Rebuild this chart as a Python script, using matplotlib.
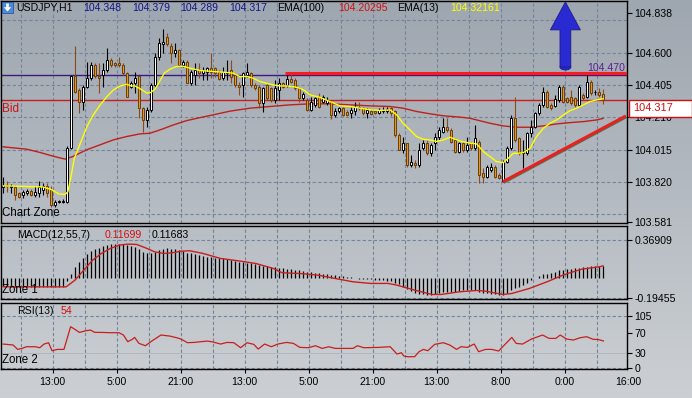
import numpy as np
import matplotlib
matplotlib.use("Agg")
import matplotlib.pyplot as plt
from matplotlib.patches import Rectangle, Polygon, Ellipse
import matplotlib.transforms as mtransforms
import matplotlib.patheffects as pe

# ---------------- DATA ----------------
opens = [103.790, 103.803, 103.790, 103.789, 103.752, 103.742, 103.752, 103.765, 103.742, 103.752,
         103.769, 103.793, 103.773, 103.682, 103.700, 103.702, 103.702, 104.024, 104.456, 104.375,
         104.305, 104.395, 104.446, 104.526, 104.456, 104.466, 104.496, 104.556, 104.536, 104.536,
         104.526, 104.476, 104.395, 104.416, 104.456, 104.265, 104.194, 104.254, 104.405, 104.576,
         104.652, 104.693, 104.640, 104.596, 104.616, 104.526, 104.546, 104.419, 104.466, 104.496,
         104.476, 104.486, 104.506, 104.506, 104.486, 104.445, 104.476, 104.496, 104.466, 104.405,
         104.405, 104.466, 104.476, 104.405, 104.395, 104.295, 104.405, 104.385, 104.315, 104.375,
         104.415, 104.405, 104.439, 104.435, 104.385, 104.325, 104.315, 104.255, 104.285, 104.335,
         104.305, 104.295, 104.305, 104.225, 104.245, 104.265, 104.239, 104.235, 104.245, 104.275,
         104.265, 104.235, 104.249, 104.245, 104.235, 104.245, 104.245, 104.265, 104.245, 104.104,
         104.014, 104.054, 103.923, 103.935, 103.923, 104.024, 104.054, 103.994, 104.054, 104.094,
         104.124, 104.154, 104.134, 104.074, 104.003, 104.054, 104.013, 104.054, 104.023, 104.064,
         103.873, 103.853, 103.893, 103.913, 103.863, 103.825, 103.943, 104.023, 104.204, 104.084,
         103.993, 103.993, 104.114, 104.154, 104.234, 104.285, 104.365, 104.285, 104.279, 104.315,
         104.395, 104.325, 104.335, 104.325, 104.285, 104.345, 104.335, 104.425, 104.360, 104.365,
         104.348]
highs = [103.853, 103.823, 103.805, 103.803, 103.762, 103.773, 103.780, 103.775, 103.793, 103.823,
         103.813, 103.813, 103.793, 103.712, 103.712, 103.716, 104.034, 104.466, 104.637, 104.385,
         104.406, 104.546, 104.546, 104.536, 104.536, 104.536, 104.627, 104.566, 104.546, 104.576,
         104.536, 104.486, 104.426, 104.486, 104.456, 104.275, 104.275, 104.415, 104.596, 104.687,
         104.741, 104.721, 104.656, 104.656, 104.620, 104.556, 104.556, 104.496, 104.536, 104.540,
         104.516, 104.516, 104.596, 104.516, 104.496, 104.516, 104.556, 104.556, 104.476, 104.425,
         104.486, 104.536, 104.486, 104.415, 104.405, 104.395, 104.415, 104.395, 104.435, 104.445,
         104.425, 104.466, 104.476, 104.445, 104.395, 104.365, 104.325, 104.335, 104.335, 104.355,
         104.345, 104.330, 104.315, 104.265, 104.275, 104.275, 104.255, 104.275, 104.305, 104.305,
         104.275, 104.265, 104.259, 104.255, 104.265, 104.275, 104.275, 104.275, 104.255, 104.114,
         104.094, 104.058, 103.984, 103.953, 104.054, 104.074, 104.074, 104.054, 104.114, 104.154,
         104.205, 104.205, 104.144, 104.084, 104.064, 104.064, 104.094, 104.064, 104.164, 104.074,
         103.903, 103.923, 103.933, 103.923, 103.873, 103.953, 104.034, 104.224, 104.335, 104.094,
         104.074, 104.124, 104.194, 104.244, 104.295, 104.395, 104.375, 104.295, 104.345, 104.405,
         104.405, 104.335, 104.375, 104.335, 104.405, 104.355, 104.466, 104.435, 104.375, 104.385,
         104.379]
lows = [103.752, 103.762, 103.752, 103.712, 103.722, 103.722, 103.740, 103.735, 103.732, 103.732,
        103.742, 103.732, 103.672, 103.672, 103.692, 103.692, 103.696, 104.018, 104.355, 104.235,
        104.255, 104.385, 104.436, 104.446, 104.355, 104.395, 104.486, 104.516, 104.516, 104.516,
        104.466, 104.335, 104.385, 104.355, 104.205, 104.124, 104.154, 104.244, 104.395, 104.556,
        104.596, 104.640, 104.536, 104.576, 104.522, 104.516, 104.415, 104.405, 104.405, 104.445,
        104.435, 104.435, 104.445, 104.455, 104.435, 104.435, 104.435, 104.415, 104.395, 104.345,
        104.335, 104.455, 104.395, 104.375, 104.265, 104.244, 104.315, 104.305, 104.295, 104.315,
        104.385, 104.395, 104.415, 104.375, 104.305, 104.315, 104.245, 104.245, 104.275, 104.265,
        104.295, 104.285, 104.199, 104.211, 104.235, 104.219, 104.215, 104.205, 104.225, 104.255,
        104.225, 104.205, 104.225, 104.229, 104.229, 104.235, 104.235, 104.219, 104.094, 104.010,
        103.994, 103.913, 103.913, 103.903, 103.913, 104.014, 103.984, 103.974, 104.014, 104.074,
        104.114, 104.124, 104.054, 103.993, 103.993, 104.003, 104.003, 104.013, 104.013, 103.812,
        103.812, 103.843, 103.883, 103.843, 103.837, 103.822, 103.933, 104.013, 104.064, 103.983,
        103.903, 103.983, 104.094, 104.144, 104.224, 104.275, 104.265, 104.254, 104.271, 104.305,
        104.295, 104.295, 104.285, 104.275, 104.279, 104.315, 104.325, 104.345, 104.345, 104.335,
        104.289]
closes = [103.800, 103.793, 103.797, 103.742, 103.732, 103.762, 103.768, 103.744, 103.762, 103.789,
          103.793, 103.752, 103.682, 103.702, 103.704, 103.706, 104.024, 104.456, 104.365, 104.305,
          104.395, 104.446, 104.526, 104.456, 104.446, 104.496, 104.556, 104.526, 104.526, 104.526,
          104.476, 104.335, 104.416, 104.446, 104.265, 104.194, 104.255, 104.405, 104.576, 104.656,
          104.666, 104.652, 104.596, 104.616, 104.526, 104.546, 104.419, 104.486, 104.496, 104.476,
          104.496, 104.506, 104.486, 104.476, 104.439, 104.486, 104.486, 104.455, 104.405, 104.395,
          104.476, 104.486, 104.405, 104.385, 104.295, 104.385, 104.325, 104.315, 104.385, 104.415,
          104.395, 104.439, 104.425, 104.385, 104.325, 104.350, 104.255, 104.305, 104.325, 104.275,
          104.335, 104.315, 104.225, 104.245, 104.265, 104.225, 104.225, 104.255, 104.275, 104.265,
          104.235, 104.255, 104.231, 104.235, 104.255, 104.255, 104.257, 104.235, 104.104, 104.014,
          104.054, 103.923, 103.943, 103.925, 104.014, 104.054, 103.994, 104.044, 104.094, 104.134,
          104.154, 104.134, 104.064, 104.003, 104.054, 104.013, 104.044, 104.023, 104.084, 103.863,
          103.853, 103.913, 103.913, 103.853, 103.843, 103.943, 104.023, 104.204, 104.074, 103.993,
          104.003, 104.114, 104.154, 104.234, 104.285, 104.365, 104.275, 104.265, 104.321, 104.395,
          104.305, 104.305, 104.295, 104.285, 104.395, 104.325, 104.425, 104.355, 104.365, 104.345,
          104.317]

ema13_x = [0, 5, 10, 12, 14, 15.5, 16.2, 17, 17.8, 19.5, 21, 22.6, 24.3, 26, 27.6, 29.3, 31, 32, 33,
           34.5, 36, 37, 38, 39, 40.3, 41.75, 43.4, 45, 46.75, 49.25, 52.6, 55.9, 57.6, 59.25, 60.9,
           62.6, 64.25, 65.9, 67.6, 69.25, 70.9, 72.6, 74.25, 75.5, 76.75, 79.25, 81.75, 84.25, 86.75,
           89.25, 91.75, 94.25, 96.75, 98.4, 100, 101.75, 103.4, 105, 106.75, 108.4, 110.1, 111.75,
           114.25, 116.75, 118.4, 120.1, 121.75, 123.4, 125.1, 126.3, 127.6, 128.8, 130.1, 131.75,
           133.4, 135.1, 136.75, 138.4, 140.1, 141.75, 143.4, 145.1, 146.75, 148.4, 150]
ema13_v = [103.797, 103.793, 103.790, 103.775, 103.748, 103.745, 103.760, 103.853, 103.960, 104.064,
           104.155, 104.225, 104.285, 104.335, 104.375, 104.399, 104.409, 104.399, 104.399, 104.379,
           104.355, 104.360, 104.380, 104.420, 104.476, 104.500, 104.516, 104.518, 104.506, 104.492,
           104.486, 104.480, 104.476, 104.455, 104.457, 104.445, 104.425, 104.415, 104.405, 104.399,
           104.399, 104.395, 104.385, 104.370, 104.345, 104.330, 104.305, 104.279, 104.275, 104.265,
           104.255, 104.251, 104.255, 104.225, 104.174, 104.134, 104.094, 104.078, 104.074, 104.064,
           104.074, 104.090, 104.067, 104.054, 104.050, 104.003, 103.973, 103.943, 103.937, 103.963,
           103.993, 103.993, 103.997, 104.023, 104.094, 104.144, 104.174, 104.194, 104.224, 104.250,
           104.265, 104.285, 104.305, 104.315, 104.3216]

ema100_x = [0, 5.9, 9.25, 12.6, 15.5, 17.6, 20.9, 24.25, 27.6, 30.9, 34.25, 36.75, 39.25, 42.6, 45.9,
            49.25, 52.6, 56.75, 61.75, 66.75, 71.75, 76.75, 81.75, 86.75, 91.75, 96.75, 100, 103.4,
            106.75, 110.1, 114.25, 116.75, 121.75, 125.1, 128.4, 131.75, 135.1, 138.4, 141.75, 145.1,
            148.4, 150]
ema100_v = [104.032, 104.018, 103.998, 103.975, 103.958, 103.975, 104.014, 104.044, 104.074, 104.094,
            104.110, 104.114, 104.134, 104.164, 104.190, 104.208, 104.225, 104.247, 104.265, 104.275,
            104.285, 104.291, 104.291, 104.285, 104.279, 104.275, 104.265, 104.245, 104.231, 104.219,
            104.211, 104.204, 104.174, 104.158, 104.150, 104.150, 104.158, 104.170, 104.178, 104.184,
            104.194, 104.203]

macd_hist = [-0.082, -0.084, -0.085, -0.088, -0.090, -0.090, -0.089, -0.089, -0.088, -0.087,
             -0.086, -0.087, -0.091, -0.093, -0.094, -0.094, -0.030, 0.042, 0.107, 0.156,
             0.195, 0.228, 0.260, 0.280, 0.293, 0.306, 0.319, 0.329, 0.332, 0.335,
             0.332, 0.319, 0.313, 0.303, 0.280, 0.254, 0.238, 0.238, 0.254, 0.270,
             0.280, 0.287, 0.280, 0.280, 0.270, 0.260, 0.247, 0.238, 0.228, 0.221,
             0.215, 0.208, 0.205, 0.198, 0.192, 0.189, 0.182, 0.176, 0.166, 0.156,
             0.150, 0.147, 0.140, 0.134, 0.124, 0.117, 0.111, 0.104, 0.101, 0.098,
             0.091, 0.088, 0.085, 0.078, 0.072, 0.065, 0.059, 0.052, 0.049, 0.046,
             0.039, 0.033, 0.026, 0.023, 0.020, 0.013, 0.007, 0.003, 0.000, -0.007,
             -0.010, -0.013, -0.016, -0.020, -0.023, -0.026, -0.029, -0.033, -0.046, -0.065,
             -0.088, -0.111, -0.130, -0.147, -0.156, -0.163, -0.169, -0.169, -0.163, -0.153,
             -0.143, -0.137, -0.137, -0.134, -0.130, -0.124, -0.120, -0.120, -0.124, -0.137,
             -0.147, -0.153, -0.160, -0.163, -0.169, -0.169, -0.153, -0.120, -0.104, -0.088,
             -0.072, -0.046, -0.020, 0.000, 0.016, 0.033, 0.042, 0.049, 0.059, 0.072,
             0.078, 0.085, 0.088, 0.091, 0.098, 0.101, 0.104, 0.111, 0.114, 0.117,
             0.117]
signal_x = [0, 15.8, 18, 20.2, 22.4, 24.6, 26.8, 29, 31.2, 33.4, 35.6, 37.9, 40.1, 42.3, 44.5, 46.7,
            50, 54.4, 58.8, 63.2, 67.6, 69.8, 74.3, 78.7, 83.1, 87.5, 91.9, 96.3, 98.5, 102.9, 107.3,
            109.5, 114, 118.4, 120.6, 125, 127.2, 131.6, 136, 140.4, 144.8, 149.2, 150]
signal_v = [-0.088, -0.088, -0.023, 0.075, 0.172, 0.238, 0.286, 0.319, 0.329, 0.326, 0.293, 0.254,
            0.238, 0.244, 0.260, 0.264, 0.238, 0.189, 0.166, 0.140, 0.091, 0.049, 0.042, 0.026,
            -0.007, -0.039, -0.055, -0.055, -0.072, -0.120, -0.163, -0.163, -0.137, -0.124, -0.130,
            -0.163, -0.153, -0.104, -0.039, 0.033, 0.085, 0.108, 0.117]

rsi_x = [0, 2.56, 3.66, 4.76, 5.87, 8.07, 9.18, 10.28, 11.38, 12.26, 13.59, 15.24, 16.9, 18.0, 19.1,
         20.75, 21.86, 22.96, 24.6, 26.8, 29.0, 30.1, 31.2, 32.3, 32.9, 34.0, 35.6, 37.3, 39.5, 41.7,
         43.4, 44.5, 46.1, 47.8, 49.4, 51.1, 52.2, 54.4, 56.0, 57.7, 59.4, 61.0, 62.7, 63.8, 65.4,
         67.1, 68.7, 70.9, 72.6, 74.2, 76.4, 78.1, 79.8, 81.4, 83.1, 87.5, 88.6, 90.2, 94.1, 96.8,
         98.5, 99.6, 100.2, 101.3, 102.9, 104.0, 105.1, 106.2, 107.9, 110.1, 111.7, 113.4, 114.5,
         116.1, 117.8, 118.9, 120.6, 122.2, 123.9, 125.5, 127.2, 128.3, 129.9, 132.1, 134.9, 136.5,
         138.2, 139.3, 140.9, 142.6, 144.3, 145.9, 147.6, 148.7, 150.1]
rsi_v = [47.8, 45.8, 37.0, 39.0, 42.4, 42.4, 40.4, 47.8, 50.5, 34.3, 37.0, 37.0, 82.8, 77.4, 71.3,
         74.7, 76.0, 71.3, 71.3, 70.7, 70.7, 66.0, 52.5, 57.2, 61.2, 49.1, 44.4, 54.5, 66.0, 63.9,
         60.6, 57.9, 50.5, 51.1, 52.5, 53.8, 52.5, 47.8, 51.1, 50.5, 40.4, 50.5, 47.1, 37.7, 47.8,
         42.4, 47.8, 51.1, 49.1, 41.1, 40.4, 44.4, 39.0, 42.4, 39.0, 39.0, 44.4, 40.4, 41.1, 42.4,
         27.6, 30.3, 23.6, 22.2, 22.2, 32.3, 37.0, 34.3, 47.1, 50.5, 45.8, 37.0, 42.4, 41.1, 47.8,
         32.3, 37.0, 37.0, 33.7, 47.1, 61.2, 49.1, 47.8, 57.9, 66.0, 59.2, 59.2, 66.0, 57.9, 55.9,
         60.6, 62.6, 57.2, 57.2, 54.0]

time_labels = ["13:00", "5:00", "21:00", "13:00", "5:00", "21:00", "13:00", "8:00", "0:00", "16:00"]
time_pos = [12.4, 28.4, 44.4, 60.4, 76.4, 92.4, 108.4, 124.4, 140.4, 156.4]
grid_pos = [4.4 + 8 * k for k in range(19)]

price_ticks = [104.838, 104.600, 104.405, 104.210, 104.015, 103.820, 103.581]
price_grid = [104.795, 104.600, 104.405, 104.210, 104.015, 103.820, 103.625]
macd_ticks = [0.36909, -0.19455]
rsi_ticks = [105, 70, 30, 0]

bid_price = 104.317
purple_level = 104.466
resist_level, resist_start = 104.479, 70.5
trend_x, trend_y = [125, 155.7], [103.822, 104.218]
arrow_x, arrow_tip, arrow_neck, arrow_tail = 140.6, 104.905, 104.737, 104.495
arrow_head_hw, arrow_shaft_hw = 3.75, 1.35

header = [("USDJPY,H1", 16, "black"), ("104.348", 83, "#14148c"), ("104.379", 132, "#14148c"),
          ("104.289", 180, "#14148c"), ("104.317", 229, "#14148c"), ("EMA(100)", 277, "black"),
          ("104.20295", 338, "#d01010"), ("EMA(13)", 397, "black"), ("104.32161", 450, "#ffff00")]

# ---------------- STYLE ----------------
W, H = 692, 398
FONT = ["Liberation Sans", "DejaVu Sans"]
plt.rcParams["font.family"] = FONT
FS = 7.6
GRID = "#74849a"
BEAR = "#e8961a"
BEAR_EDGE = "#6a3e0c"
BEAR_WICK = "#8b4a1a"
RED = "#c81e1e"
XMIN, XMAX = (1 - 3) / 4, (627.3 - 3) / 4

fig = plt.figure(figsize=(W / 100, H / 100), dpi=100)

bg = fig.add_axes([0, 0, 1, 1], zorder=-10)
t = np.linspace(0, 1, 256)[:, None, None]
top = np.array([158, 166, 175]) / 255
bot = np.array([204, 208, 212]) / 255
bg.imshow(top + (bot - top) * t, aspect="auto", extent=[0, 1, 0, 1])
bg.axis("off")


def fx(x):
    return x / W


def fy(y):
    return 1 - y / H


def add_pane(y0, y1):
    ax = fig.add_axes([fx(1), fy(y1), fx(627.3) - fx(1), (y1 - y0) / H])
    ax.set_facecolor("none")
    for s in ax.spines.values():
        s.set_color("black")
        s.set_linewidth(1.0)
    ax.set_xlim(XMIN, XMAX)
    ax.yaxis.tick_right()
    ax.tick_params(axis="y", direction="out", length=3.5, width=0.8, pad=1.5,
                   labelsize=FS, colors="black")
    ax.tick_params(axis="x", bottom=False, labelbottom=False)
    for g in grid_pos:
        ax.axvline(g, color=GRID, lw=0.8, ls=(0, (3, 2)), zorder=0.5)
    return ax


# ---------------- MAIN PANE ----------------
ax = add_pane(0.5, 223.3)
ax.set_ylim(103.571, 104.914)
ax.set_yticks(price_ticks)
ax.set_yticklabels([f"{v:.3f}" for v in price_ticks])
for g in price_grid:
    ax.axhline(g, color=GRID, lw=0.8, ls=(0, (3, 2)), zorder=0.5)

ax.axhline(purple_level, color="#3c1a82", lw=1.0, zorder=2)
ax.axhline(bid_price, color=RED, lw=1.0, zorder=2)
ax.plot(ema100_x, ema100_v, color="#c0201c", lw=1.0, zorder=2.5)

idx = np.arange(len(closes))
o, h, l, c = map(np.array, (opens, highs, lows, closes))
bull = c >= o
ax.vlines(idx, l, h, colors=["black" if b else BEAR_WICK for b in bull], lw=0.8, zorder=3)
ax.bar(idx, np.maximum(np.abs(c - o), 0.004), bottom=np.minimum(o, c), width=0.7,
       color=["white" if b else BEAR for b in bull],
       edgecolor=["black" if b else BEAR_EDGE for b in bull], linewidth=0.7, zorder=4)

ax.plot(ema13_x, ema13_v, color="#ffff00", lw=1.0, zorder=5)

ax.plot([resist_start, XMAX], [resist_level, resist_level], color="#ff1a1a", lw=2.2,
        zorder=6, solid_capstyle="butt")
ax.plot(trend_x, trend_y, color="#e82020", lw=2.2, zorder=6, solid_capstyle="butt",
        path_effects=[pe.SimpleLineShadow(offset=(0.3, -0.6), shadow_color="#2a5a2a", alpha=0.7),
                      pe.Normal()])

# blue arrow
verts = [(arrow_x, arrow_tip), (arrow_x - arrow_head_hw, arrow_neck),
         (arrow_x - arrow_shaft_hw, arrow_neck), (arrow_x - arrow_shaft_hw, arrow_tail + 0.018),
         (arrow_x + arrow_shaft_hw, arrow_tail + 0.018), (arrow_x + arrow_shaft_hw, arrow_neck),
         (arrow_x + arrow_head_hw, arrow_neck)]
ax.add_patch(Ellipse((arrow_x, arrow_tail + 0.018), 2 * arrow_shaft_hw, 0.036,
                     facecolor="#2828cc", edgecolor="#1a1a8a", lw=0.6, zorder=7))
ax.add_patch(Polygon(verts, closed=True, facecolor="#2a2ad2", edgecolor="#1a1a8a", lw=0.6,
                     zorder=7.5))

ax.text(155.5, 104.491, "104.470", color="#5a1e96", fontsize=FS, ha="right", va="baseline",
        zorder=8)

# price box
trans = mtransforms.blended_transform_factory(fig.transFigure, ax.transData)
box_h = 17 * 0.006028
ax.add_patch(Rectangle((fx(629), bid_price - box_h), fx(692) - fx(629), box_h, transform=trans,
                       facecolor="white", edgecolor="#d01010", lw=1.0, clip_on=False, zorder=10))
ax.text(fx(633), bid_price - box_h / 2, f"{bid_price:.3f}", transform=trans, color="#d01010",
        fontsize=7.9, ha="left", va="center", clip_on=False, zorder=11)

# ---------------- MACD PANE ----------------
axm = add_pane(226, 299.3)
axm.set_ylim(-0.210, 0.506)
axm.set_yticks(macd_ticks)
axm.set_yticklabels([f"{v:.5f}" for v in macd_ticks])
for g in macd_ticks:
    axm.axhline(g, color=GRID, lw=0.8, ls=(0, (3, 2)), zorder=0.5)
axm.vlines(idx, 0, macd_hist, color="black", lw=0.9, zorder=3)
axm.plot(signal_x, signal_v, color=RED, lw=1.0, zorder=4)

# ---------------- RSI PANE ----------------
axr = add_pane(302.7, 369.3)
axr.set_ylim(-3.2, 131.3)
axr.set_yticks(rsi_ticks)
axr.set_yticklabels([str(v) for v in rsi_ticks])
for g in (105, 0):
    axr.axhline(g, color=GRID, lw=0.8, ls=(0, (3, 2)), zorder=0.5)
axr.axhline(30, color="#adb4bb", lw=0.6, zorder=0.4)
axr.plot(rsi_x, rsi_v, color=RED, lw=0.9, zorder=4)

axr.set_xticks([p for p in time_pos if p <= XMAX])
axr.tick_params(axis="x", bottom=True, direction="out", length=3, width=0.8, labelbottom=False)
tx = mtransforms.blended_transform_factory(axr.transData, fig.transFigure)
for p, s in zip(time_pos, time_labels):
    axr.text(p, fy(381.7), s, transform=tx, ha="center", va="center", fontsize=FS,
             clip_on=False)

# ---------------- TEXTS ----------------
for s, x, col in header:
    fig.text(fx(x), fy(8), s, color=col, fontsize=FS, ha="left", va="center")
fig.patches.append(Rectangle((fx(2), fy(13)), fx(11), 11 / H, transform=fig.transFigure,
                             facecolor="#4a8ad8", edgecolor="#2a5aa0", lw=0.6, figure=fig))
arr = [(7.5, 11.5), (3.8, 7.2), (6.2, 7.2), (6.2, 3.5), (8.8, 3.5), (8.8, 7.2), (11.2, 7.2)]
fig.patches.append(Polygon([(fx(a), fy(b)) for a, b in arr], closed=True,
                           transform=fig.transFigure, facecolor="white", edgecolor="none",
                           figure=fig))

fig.text(fx(2), fy(108.5), "Bid", color="#d01010", fontsize=8.5, ha="left", va="center")
fig.text(fx(2.5), fy(213.5), "Chart Zone", color="black", fontsize=8.3, ha="left", va="center")
fig.text(fx(16.8), fy(235), "MACD(12,55,7)", color="black", fontsize=FS, ha="left", va="center",
         zorder=20)
fig.text(fx(104.5), fy(235), "0.11699", color="#d01010", fontsize=FS, ha="left", va="center",
         zorder=20)
fig.text(fx(152), fy(235), "0.11683", color="black", fontsize=FS, ha="left", va="center",
         zorder=20)
fig.text(fx(2), fy(290), "Zone 1", color="black", fontsize=8.3, ha="left", va="center")
fig.text(fx(16.8), fy(311), "RSI(13)", color="black", fontsize=FS, ha="left", va="center")
fig.text(fx(60.4), fy(311), "54", color="#d01010", fontsize=FS, ha="left", va="center")
fig.text(fx(2), fy(360), "Zone 2", color="black", fontsize=8.3, ha="left", va="center")

fig.savefig("out.png", dpi=100)
